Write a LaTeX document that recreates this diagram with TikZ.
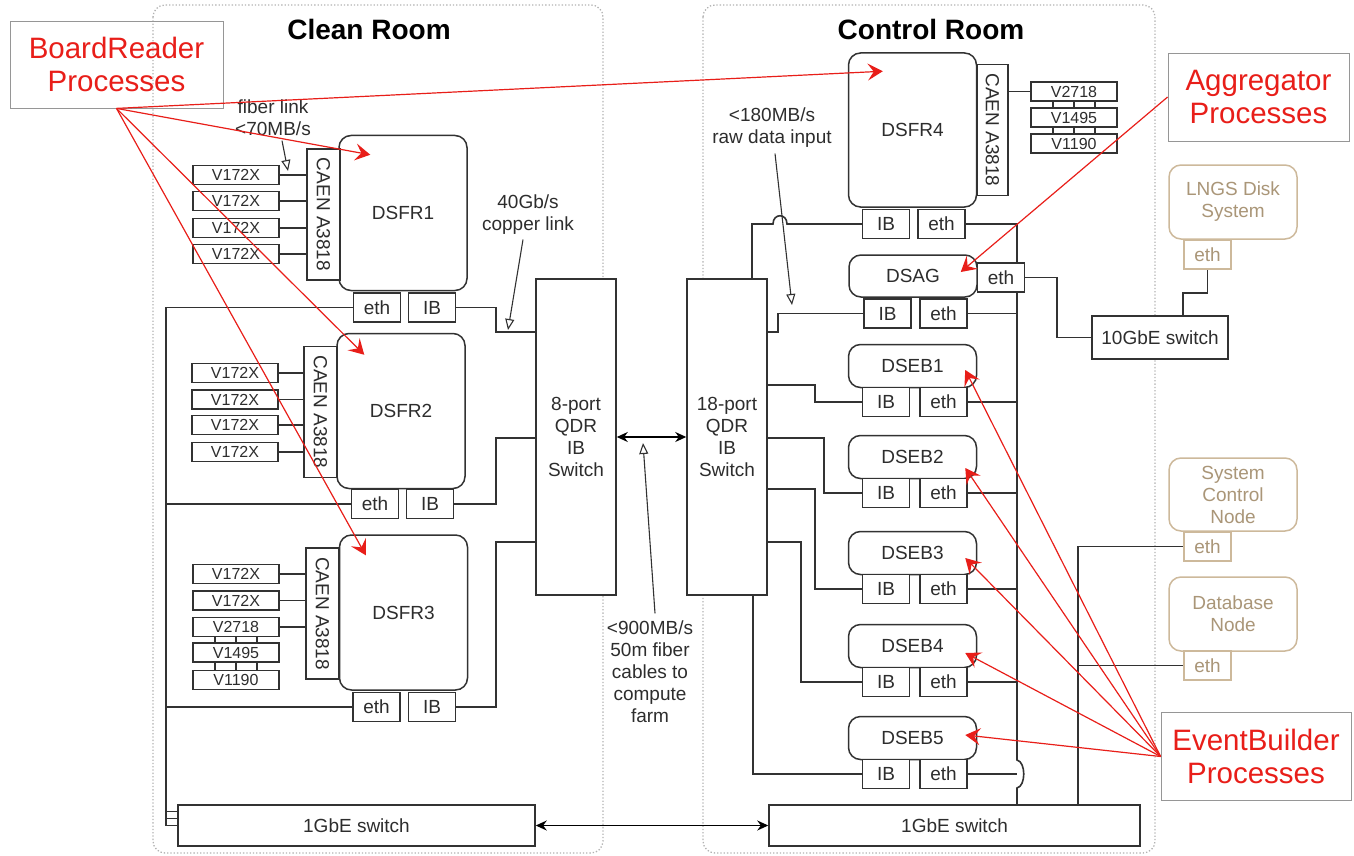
\documentclass[tikz,border=0pt]{standalone}
\usepackage{fontspec}
\setmainfont{Liberation Sans}
\usepackage{graphicx}
\usetikzlibrary{arrows.meta, positioning, calc, backgrounds}
\definecolor{linha}{RGB}{50,50,50}
\definecolor{texto}{RGB}{45,45,45}
\definecolor{vermelho}{RGB}{232,30,25}
\definecolor{bege}{RGB}{205,185,155}
\definecolor{begetexto}{RGB}{170,150,120}
\definecolor{moldura}{RGB}{150,150,150}
\newcommand{\fdiag}{\fontsize{19}{22}\selectfont}
\newcommand{\fmod}{\fontsize{16}{17}\selectfont}
\newcommand{\fred}{\fontsize{29.5}{33}\selectfont}
\newcommand{\ftitle}{\fontsize{28}{30}\selectfont\bfseries}
\tikzset{
  caixa/.style={draw=linha, fill=white, line width=1.5pt, inner sep=0pt,
    font=\fdiag, text=texto, align=center},
  servidor/.style={caixa, rounded corners=12pt, minimum width=128pt, minimum height=155pt},
  noEB/.style={caixa, rounded corners=12pt, minimum width=128pt, minimum height=43pt},
  caen/.style={caixa, minimum width=33pt, minimum height=131pt},
  modulo/.style={caixa, minimum width=86pt, minimum height=19pt, font=\fmod},
  porta/.style={caixa, minimum width=47pt, minimum height=29pt},
  chave/.style={caixa, minimum width=80pt, minimum height=316pt},
  externo/.style={caixa, draw=bege, text=begetexto, rounded corners=12pt,
    minimum width=128pt, minimum height=74pt},
  portaext/.style={porta, draw=bege, text=begetexto},
  rotulo/.style={draw=moldura, line width=0.8pt, font=\fred, text=vermelho,
    align=center, inner sep=0pt},
  nota/.style={font=\fdiag, text=texto, align=center, inner sep=1pt},
  titulo/.style={font=\ftitle, text=black},
  fio/.style={draw=linha, line width=1.6pt},
  sala/.style={draw=gray!60, dotted, line width=1.3pt, rounded corners=12pt},
  seta/.style={{Stealth[length=11pt,width=10pt]}-{Stealth[length=11pt,width=10pt]},
    draw=black, line width=1.5pt},
  indica/.style={-{Triangle[open, length=11pt, width=9pt]}, draw=linha, line width=1.1pt},
  aponta/.style={-{Stealth[length=15pt, width=17pt, inset=6pt]}, draw=vermelho, line width=1.2pt},
}

\begin{document}
\begin{tikzpicture}[x=1pt, y=-1pt]
\useasboundingbox (0,0) rectangle (1354,856);

\node[titulo] (tclean) at (369,29) {Clean Room};
\node[titulo] (tcontrol) at (931,29) {Control Room};

% clean room: front-end readers
\node[servidor] (dsfr1) at (403,213) {DSFR1};
\node[caen] (caen1) at (323.5,214.5) {\rotatebox{-90}{CAEN A3818}};
\foreach \y [count=\i] in {175,201,228,254} {
  \node[modulo] (va\i) at (236,\y) {V172X};
  \draw[fio] (va\i.east) -- (va\i.east -| caen1.west);
}
\node[porta] (eth1) at (377,307.5) {eth};
\node[porta] (ib1) at (432,307.5) {IB};

\node[servidor] (dsfr2) at (401,411) {DSFR2};
\node[caen] (caen2) at (320.5,412) {\rotatebox{-90}{CAEN A3818}};
\foreach \y [count=\i] in {373,399.5,425,452} {
  \node[modulo] (vb\i) at (235,\y) {V172X};
  \draw[fio] (vb\i.east) -- (vb\i.east -| caen2.west);
}
\node[porta] (eth2) at (375,504) {eth};
\node[porta] (ib2) at (430,504) {IB};

\node[servidor] (dsfr3) at (403.5,612.5) {DSFR3};
\node[caen] (caen3) at (322.5,613.5) {\rotatebox{-90}{CAEN A3818}};
\foreach \y/\t [count=\i] in {574/V172X, 600.5/V172X, 627/V2718, 652.5/V1495, 680/V1190}
  \node[modulo] (vc\i) at (236,\y) {\t};
\foreach \i in {1,2,3}
  \draw[fio] (vc\i.east) -- (vc\i.east -| caen3.west);
\foreach \dx in {-21,0,21} {
  \draw[fio, line width=1.2pt] ($(vc3.south)+(\dx,0)$) -- ($(vc4.north)+(\dx,0)$);
  \draw[fio, line width=1.2pt] ($(vc4.south)+(\dx,0)$) -- ($(vc5.north)+(\dx,0)$);
}
\node[porta] (eth3) at (376.5,707) {eth};
\node[porta] (ib3) at (432,707) {IB};

\node[chave] (sw8) at (576,437) {8-port\\QDR\\IB\\Switch};
\node[chave] (sw18) at (727,437) {18-port\\QDR\\IB\\Switch};
\node[caixa, minimum width=357pt, minimum height=41pt] (gbe1) at (356.5,825.5) {1GbE switch};
\node[caixa, minimum width=371pt, minimum height=41pt] (gbe2) at (954.5,825.5) {1GbE switch};

% control room
\node[servidor, minimum height=154pt] (dsfr4) at (912.5,130) {DSFR4};
\node[caen, minimum width=31pt] (caen4) at (992.5,130) {\rotatebox{-90}{CAEN A3818}};
\foreach \y/\t [count=\i] in {91.5/V2718, 117.5/V1495, 143.5/V1190}
  \node[modulo] (vd\i) at (1074,\y) {\t};
\draw[fio] (caen4.east |- vd1.west) -- (vd1.west);
\foreach \dx in {-21,0,21} {
  \draw[fio, line width=1.2pt] ($(vd1.south)+(\dx,0)$) -- ($(vd2.north)+(\dx,0)$);
  \draw[fio, line width=1.2pt] ($(vd2.south)+(\dx,0)$) -- ($(vd3.north)+(\dx,0)$);
}
\node[porta] (ib4) at (886,224) {IB};
\node[porta] (eth4) at (941.5,224) {eth};

\node[noEB, minimum height=42pt] (dsag) at (913,276) {DSAG};
\node[porta] (ethS) at (1001,277.5) {eth};
\node[porta] (ibA) at (887.5,313.5) {IB};
\node[porta] (ethA) at (943.5,313.5) {eth};

\foreach \y [count=\i] in {366,457,553,646,738} {
  \node[noEB] (dseb\i) at (912.5,\y) {DSEB\i};
  \node[porta] (ibe\i) at (886,{\y+36}) {IB};
  \node[porta] (ethe\i) at (943.5,{\y+36}) {eth};
}

\node[caixa, minimum width=136pt, minimum height=43pt] (sw10) at (1160,337.5) {10GbE switch};
\node[externo] (lngs) at (1233,202) {LNGS Disk\\System};
\node[portaext] (ethL) at (1207.5,254.5) {eth};
\node[externo, minimum height=73pt] (sysctl) at (1233,494.5) {System\\Control\\Node};
\node[portaext] (ethSC) at (1207.5,546.5) {eth};
\node[externo] (db) at (1233,614) {Database\\Node};
\node[portaext] (ethDB) at (1207.5,665.5) {eth};

% link notes
\node[nota] (fibra) at (273,117.5) {fiber link\\<70MB/s};
\node[nota] (cobre) at (528,214.5) {40Gb/s\\copper link};
\node[nota] (bruto) at (772,127.5) {<180MB/s\\raw data input};
\node[nota] (fazenda) at (650,671.5) {<900MB/s\\50m fiber\\cables to\\compute\\farm};
\coordinate (fibraalvo) at (288,171);
\coordinate (cobrealvo) at (508,330);
\coordinate (brutoalvo) at (792,305);
\coordinate (fazendaalvo) at (643,443);
\draw[indica] ($(fibra.south)+(9,4)$) -- (fibraalvo);
\draw[indica] ($(cobre.south)+(-5,4)$) -- (cobrealvo);
\draw[indica] ($(bruto.south)+(3,5)$) -- (brutoalvo);
\draw[indica] ($(fazenda.north)+(5,-6)$) -- (fazendaalvo);

\draw[seta] (sw8.east) -- (sw18.west);
\draw[seta] (gbe1.east) -- (gbe2.west);

% process labels
\node[rotulo, minimum width=213pt, minimum height=87pt] (brp) at (116.5,64.5) {BoardReader\\Processes};
\node[rotulo, minimum width=181pt, minimum height=88pt] (agp) at (1258.5,97) {Aggregator\\Processes};
\node[rotulo, minimum width=190pt, minimum height=88pt] (ebp) at (1256,756.5) {EventBuilder\\Processes};

\begin{scope}[on background layer]
\draw[sala] (153,5) rectangle (603,853);
\draw[sala] (703,5) rectangle (1155,853);

% eth to the left 1GbE switch
\draw[fio] (eth1.west) -| ($(gbe1.west)+(-11,-14)$) -- ($(gbe1.west)+(0,-14)$);
\draw[fio] (eth2.west) -| ($(gbe1.west)+(-11,-7)$) -- ($(gbe1.west)+(0,-7)$);
\draw[fio] (eth3.west) -| ($(gbe1.west)+(-11,0)$) -- (gbe1.west);
% IB to the 8-port switch
\draw[fio] (ib1.east) -| (496,332) -- (sw8.west |- 0,332);
\draw[fio] (ib2.east) -| (496,438) -- (sw8.west |- 0,438);
\draw[fio] (ib3.east) -| (496,542) -- (sw8.west |- 0,542);

% IB to the 18-port switch
\draw[fio] (ib4.west) -- (787,224) .. controls (787,213) and (773,213) .. (773,224)
  -- (752,224) -- (sw18.north -| 752,0);
\draw[fio] (ibA.west) -| (778,332) -- (sw18.east |- 0,332);
\draw[fio] (ibe1.west) -| (815,385) -- (sw18.east |- 0,385);
\draw[fio] (ibe2.west) -| (824,438) -- (sw18.east |- 0,438);
\draw[fio] (ibe3.west) -| (815,489) -- (sw18.east |- 0,489);
\draw[fio] (ibe4.west) -| (801,542) -- (sw18.east |- 0,542);
\draw[fio] (ibe5.west) -| (sw18.south -| 753,0);

% eth bus to the right 1GbE switch
\draw[fio] (eth4.east) -- (1017,224) -- (1017,760)
  .. controls (1026,762) and (1026,786) .. (1017,788) -- (gbe2.north -| 1017,0);
\foreach \n in {ethA, ethe1, ethe2, ethe3, ethe4, ethe5}
  \draw[fio] (\n.east) -- (1017,0 |- \n.east);
\draw[fio] (ethSC.west) -| (gbe2.north -| 1078,0);
\draw[fio] (ethDB.west) -- (1078,0 |- ethDB.west);

% 10GbE
\draw[fio] (ethS.east) -| ($(sw10.west)+(-34,0)$) -- (sw10.west);
\draw[fio] (ethL.south) |- (1183,293) -- (sw10.north -| 1183,0);
\end{scope}

% process pointers
\draw[aponta] (brp.south) -- ($(dsfr4.north west)+(35,19)$);
\draw[aponta] (brp.south) -- ($(dsfr1.north west)+(32,20)$);
\draw[aponta] (brp.south) -- ($(dsfr2.north west)+(28,22)$);
\draw[aponta] (brp.south) -- ($(dsfr3.north west)+(27,21)$);
\draw[aponta] (agp.west) -- ($(dsag.east)+(-17,-4)$);
\foreach \i/\dy in {1/4,2/11,3/5,4/7,5/-3}
  \draw[aponta] (ebp.west) -- ($(dseb\i.east)+(-12,\dy)$);

\end{tikzpicture}
\end{document}
